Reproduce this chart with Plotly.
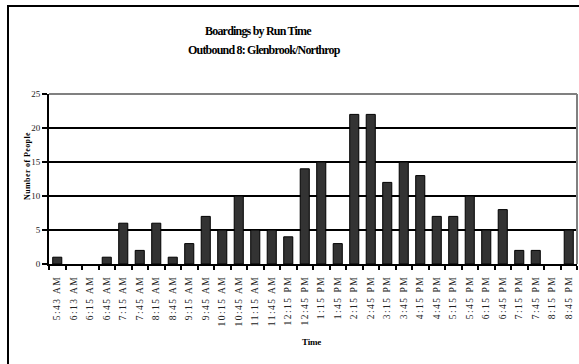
import plotly.graph_objects as go

# Departure times of the outbound runs and boardings on each
run_times = [
    "5:43 AM", "6:13 AM", "6:15 AM", "6:45 AM", "7:15 AM", "7:45 AM",
    "8:15 AM", "8:45 AM", "9:15 AM", "9:45 AM", "10:15 AM", "10:45 AM",
    "11:15 AM", "11:45 AM", "12:15 PM", "12:45 PM", "1:15 PM", "1:45 PM",
    "2:15 PM", "2:45 PM", "3:15 PM", "3:45 PM", "4:15 PM", "4:45 PM",
    "5:15 PM", "5:45 PM", "6:15 PM", "6:45 PM", "7:15 PM", "7:45 PM",
    "8:15 PM", "8:45 PM",
]
boardings = [
    1, 0, 0, 1, 6, 2, 6, 1, 3, 7, 5, 10, 5, 5, 4, 14, 15, 3,
    22, 22, 12, 15, 13, 7, 7, 10, 5, 8, 2, 2, 0, 5,
]
y_ticks = [0, 5, 10, 15, 20, 25]

title_line1 = "Boardings by Run Time"
title_line2 = "Outbound 8: Glenbrook/Northrop"
x_title = "Time"
y_title = "Number of People"

SERIF = "Liberation Serif, Times New Roman, serif"

W, H = 579, 364
L, R, T, B = 49, 2, 94, 100
plot_w = W - L - R
plot_h = H - T - B


def px_to_paper_x(px):
    return (px - L) / plot_w


def px_to_paper_y(py):
    return (H - B - py) / plot_h


def spaced(text, sp):
    return f'<span style="letter-spacing:{sp}px">{text}</span>'


# empty runs get no outline so nothing shows on the axis
outline_widths = [1 if v > 0 else 0 for v in boardings]

fig = go.Figure(
    go.Bar(
        x=run_times,
        y=boardings,
        marker=dict(color="#333333",
                    line=dict(color="#000000", width=outline_widths)),
        hoverinfo="x+y",
    )
)

fig.update_layout(
    width=W,
    height=H,
    margin=dict(l=L, r=R, t=T, b=B, pad=0),
    paper_bgcolor="white",
    plot_bgcolor="white",
    bargap=0.45,
    showlegend=False,
    font=dict(family=SERIF, color="#000000"),
)

fig.update_xaxes(
    type="category",
    tickmode="array",
    tickvals=run_times,
    ticktext=[spaced(t, 1.5) for t in run_times],
    tickangle=-90,
    tickfont=dict(family=SERIF, size=9.5, color="#222222"),
    ticks="outside",
    tickson="boundaries",
    ticklen=4,
    tickwidth=1.5,
    tickcolor="#000000",
    ticklabelstandoff=6,
    showline=True,
    linecolor="#000000",
    linewidth=2,
    showgrid=False,
    automargin=False,
)

fig.update_yaxes(
    range=[0, 25],
    tickmode="array",
    tickvals=y_ticks,
    ticktext=[str(v) for v in y_ticks],
    tickfont=dict(family=SERIF, size=9, color="#222222"),
    ticks="outside",
    ticklen=5,
    tickwidth=1.5,
    tickcolor="#000000",
    showline=True,
    linecolor="#000000",
    linewidth=2,
    showgrid=True,
    gridcolor="#000000",
    gridwidth=1.5,
    zeroline=False,
    automargin=False,
)

shapes = [
    # gray frame on the top and right of the plotting area
    dict(type="line", xref="paper", yref="paper", x0=0, x1=1, y0=1, y1=1,
         line=dict(color="#808080", width=2), layer="above"),
    dict(type="line", xref="paper", yref="paper", x0=1, x1=1, y0=0, y1=1,
         line=dict(color="#808080", width=2), layer="above"),
    # outer chart frame
    dict(type="rect", xref="paper", yref="paper",
         x0=px_to_paper_x(8), x1=px_to_paper_x(600),
         y0=px_to_paper_y(400), y1=px_to_paper_y(6),
         line=dict(color="#000000", width=2), fillcolor="rgba(0,0,0,0)",
         layer="above"),
]
fig.update_layout(shapes=shapes)

annotations = [
    dict(text=spaced(f"<b>{title_line1}</b>", -0.8), x=px_to_paper_x(258),
         y=px_to_paper_y(31), font=dict(family=SERIF, size=12)),
    dict(text=spaced(f"<b>{title_line2}</b>", -0.8), x=px_to_paper_x(264),
         y=px_to_paper_y(50), font=dict(family=SERIF, size=12)),
    dict(text=spaced(f"<b>{x_title}</b>", -0.2), x=px_to_paper_x(311),
         y=px_to_paper_y(342), font=dict(family=SERIF, size=9)),
    dict(text=spaced(f"<b>{y_title}</b>", 0.4), x=px_to_paper_x(27),
         y=px_to_paper_y(166), textangle=-90, font=dict(family=SERIF, size=8)),
]
for a in annotations:
    a.update(xref="paper", yref="paper", showarrow=False,
             xanchor="center", yanchor="middle")
fig.update_layout(annotations=annotations)

fig.write_html("out.html")
